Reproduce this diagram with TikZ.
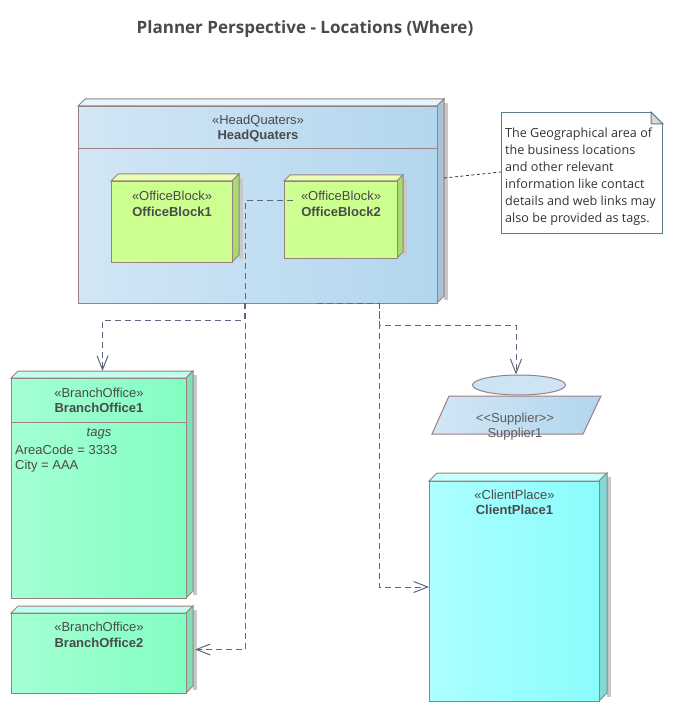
\documentclass[tikz,border=0pt]{standalone}
\usepackage{fontspec}
\setmainfont{Liberation Sans}
\newfontfamily\notefont{Open Sans}
\usetikzlibrary{arrows.meta,calc,shapes.geometric}
\definecolor{bordc}{HTML}{9A8080}
\definecolor{shadowc}{HTML}{C8C8C8}
\definecolor{textc}{HTML}{4A4A4A}
\definecolor{connc}{HTML}{5C6680}
\definecolor{notec}{HTML}{5F7F8F}
\definecolor{hqL}{HTML}{D2E6F5}
\definecolor{hqR}{HTML}{B2D6EE}
\definecolor{hqT}{HTML}{E2F4FC}
\definecolor{hqS}{HTML}{A8C2D6}
\definecolor{obF}{HTML}{CCFF90}
\definecolor{obT}{HTML}{E8FFB4}
\definecolor{obS}{HTML}{A8DA70}
\definecolor{boL}{HTML}{A4FFD2}
\definecolor{boR}{HTML}{82FEC2}
\definecolor{boT}{HTML}{C0FFEE}
\definecolor{boS}{HTML}{80DEB2}
\definecolor{cpL}{HTML}{ACFFFF}
\definecolor{cpR}{HTML}{8AFCFC}
\definecolor{cpT}{HTML}{C8FFFF}
\definecolor{cpS}{HTML}{80DAD6}
\tikzset{
  hqfront/.style={left color=hqL, right color=hqR},
  obfront/.style={fill=obF},
  bofront/.style={left color=boL, right color=boR},
  cpfront/.style={left color=cpL, right color=cpR},
  stereo/.style={font=\fontsize{13}{15}\selectfont, text=textc, inner sep=0pt},
  nname/.style={font=\fontsize{13}{15}\selectfont\bfseries, text=textc, inner sep=0pt},
  tagtxt/.style={font=\fontsize{13}{15}\selectfont, text=textc, inner sep=0pt},
  conn/.style={draw=connc, line width=1pt, dash pattern=on 6pt off 4pt, -{Straight Barb[length=14pt,width=11pt]}},
  noteconn/.style={draw=black!80, line width=0.8pt, dash pattern=on 3pt off 2.5pt},
}
% name, x1, y1, x2, y2, depth, front style, top colour, side colour
\newcommand{\cubebox}[9]{%
  \fill[shadowc] (#4+#6,#3-#6+4) rectangle (#4+#6+4,#5-#6+4);
  \filldraw[fill=#8, draw=bordc, line width=1pt] (#2,#3) -- (#2+#6,#3-#6) -- (#4+#6,#3-#6) -- (#4,#3) -- cycle;
  \filldraw[fill=#9, draw=bordc, line width=1pt] (#4,#3) -- (#4+#6,#3-#6) -- (#4+#6,#5-#6) -- (#4,#5) -- cycle;
  \node[#7, draw=bordc, line width=1pt, inner sep=0pt, minimum width={(#4-#2)*1pt}, minimum height={(#5-#3)*1pt}, anchor=north west] (#1) at (#2,#3) {};
}
\begin{document}
\begin{tikzpicture}[x=1pt,y=-1pt]
\useasboundingbox (0,0) rectangle (673,711);

% title
\node[font=\notefont\fontsize{17}{20}\selectfont\bfseries, text=textc, inner sep=0pt] (title) at (305,29) {Planner Perspective - Locations (Where)};

% HeadQuaters
\cubebox{hq}{78}{106}{437}{303}{7}{hqfront}{hqT}{hqS}
\draw[bordc, line width=1pt] ($(hq.north west)+(0,43)$) -- ($(hq.north east)+(0,43)$);
\node[stereo] (hqst) at ($(hq.north)+(0,15)$) {«HeadQuaters»};
\node[nname] (hqnm) at ($(hq.north)+(0,30)$) {HeadQuaters};

% OfficeBlocks
\cubebox{ob1}{111}{181}{232}{262}{7}{obfront}{obT}{obS}
\node[stereo] (ob1st) at ($(ob1.north)+(0,15)$) {«OfficeBlock»};
\node[nname] (ob1nm) at ($(ob1.north)+(0,31)$) {OfficeBlock1};
\cubebox{ob2}{284}{181}{397}{258}{6}{obfront}{obT}{obS}
\node[stereo] (ob2st) at ($(ob2.north)+(0,15)$) {«OfficeBlock»};
\node[nname] (ob2nm) at ($(ob2.north)+(0,31)$) {OfficeBlock2};

% Note
\node[draw=notec, fill=white, line width=1pt, inner sep=0pt, minimum width=161pt, minimum height=121pt, anchor=north west] (note) at (501,112) {};
\fill[white] ($(note.north east)+(-12,0)$) -- (note.north east) -- ($(note.north east)+(0,12)$) -- cycle;
\filldraw[fill=black!15, draw=notec, line width=1pt] ($(note.north east)+(-12,0)$) -- ($(note.north east)+(-12,12)$) -- ($(note.north east)+(0,12)$) -- cycle;
\draw[notec, line width=1pt] ($(note.north east)+(-12,0)$) -- ($(note.north east)+(0,12)$);
\node[font=\notefont\fontsize{12.6}{17}\selectfont, text=black!80, align=left, inner sep=0pt, anchor=north west] (notetxt) at (505,128) {The Geographical area of\\the business locations\\and other relevant\\information like contact\\details and web links may\\also be provided as tags.};
\coordinate (nc1) at (444,178);
\draw[noteconn] (nc1) -- ($(note.west)+(0,-1)$);

% BranchOffices
\cubebox{bo1}{11}{378}{186}{598}{7}{bofront}{boT}{boS}
\draw[bordc, line width=1pt] ($(bo1.north west)+(0,44)$) -- ($(bo1.north east)+(0,44)$);
\node[stereo] (bo1st) at ($(bo1.north)+(0,15)$) {«BranchOffice»};
\node[nname] (bo1nm) at ($(bo1.north)+(0,30)$) {BranchOffice1};
\node[tagtxt, font=\fontsize{13}{15}\selectfont\itshape] (bo1tg) at ($(bo1.north)+(0,56)$) {tags};
\node[tagtxt, anchor=west] (bo1a) at (15,450) {AreaCode = 3333};
\node[tagtxt, anchor=west] (bo1c) at (15,466) {City = AAA};
\cubebox{bo2}{11}{613}{186}{693}{7}{bofront}{boT}{boS}
\node[stereo] (bo2st) at ($(bo2.north)+(0,14)$) {«BranchOffice»};
\node[nname] (bo2nm) at ($(bo2.north)+(0,30)$) {BranchOffice2};

% Supplier
\shade[left color=hqL, right color=hqR, draw=bordc, line width=1pt] (449,396) -- (601,396) -- (583,434) -- (432,434) -- cycle;
\node[ellipse, draw=bordc, fill=hqL!85!hqR, line width=1pt, inner sep=0pt, minimum width=93pt, minimum height=20pt] (supE) at (519,385) {};
\node[stereo, text=textc!90] (supst) at (515,419) {<\kern0pt<Supplier>\kern0pt>};
\node[stereo, text=textc!90] (supnm) at (515,434) {Supplier1};

% ClientPlace
\cubebox{cp}{429}{481}{599}{701}{8}{cpfront}{cpT}{cpS}
\node[stereo] (cpst) at ($(cp.north)+(0,14)$) {«ClientPlace»};
\node[nname] (cpnm) at ($(cp.north)+(0,29)$) {ClientPlace1};

% connectors
\coordinate (p1) at (244,303);
\draw[conn] (p1) -- ++(0,17) -| ($(bo1.north)+(3.5,-7)$);
\coordinate (p2) at (293,201);
\draw[conn] (p2) -- ++(-48,0) |- ($(bo2.east)+(8,-4)$);
\coordinate (p3) at (317,303);
\coordinate (p4) at (379,303);
\draw[conn] (p3) -- (p4) -- ++(0,22) -| ($(supE.north)+(-3,0)$);
\draw[conn] (p4) |- ($(cp.north west)+(0,106)$);
\end{tikzpicture}
\end{document}
